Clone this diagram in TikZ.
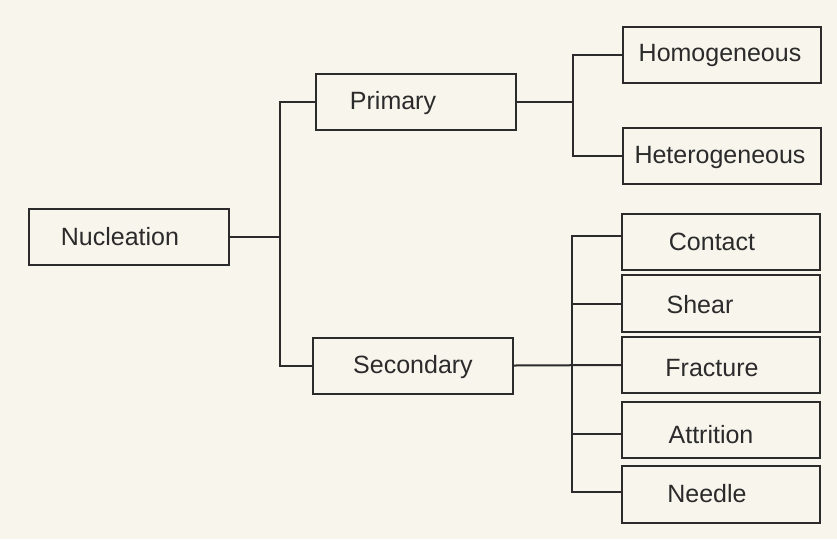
\documentclass[tikz,border=0pt]{standalone}
\usepackage{fontspec}
\setmainfont{Liberation Sans}
\definecolor{paper}{HTML}{F7F5EC}
\definecolor{ink}{HTML}{2B2B2B}
\begin{document}
\begin{tikzpicture}[x=1pt,y=-1pt,
  box/.style={draw=ink,line width=2pt,minimum width=200pt,minimum height=56pt,inner sep=0pt},
  rbox/.style={box,minimum width=198pt},
  lbl/.style={text=ink,font=\fontsize{25}{29}\selectfont,inner sep=0pt},
  conn/.style={draw=ink,line width=2pt}]
\fill[paper] (0,0) rectangle (837,539);
\useasboundingbox (0,0) rectangle (837,539);
% boxes
\node[box] (nuc) at (129,236.5) {};
\node[box] (pri) at (416,102) {};
\node[box] (sec) at (413,365.5) {};
\node[rbox] (hom) at (721.5,54.5) {};
\node[rbox] (het) at (721.5,155.5) {};
\node[rbox] (con) at (721,242) {};
\node[rbox,minimum height=57pt] (she) at (721,303.5) {};
\node[rbox] (fra) at (721,365) {};
\node[rbox] (att) at (721,429.5) {};
\node[rbox,minimum height=57pt] (nee) at (721,494.5) {};
% texts
\node[lbl] (nuct) at (120,237) {Nucleation};
\node[lbl] (prit) at (393,103) {Primary};
\node[lbl] (sect) at (413,367) {Secondary};
\node[lbl] (homt) at (720,55) {Homogeneous};
\node[lbl] (hett) at (720,157) {Heterogeneous};
\node[lbl] (cont) at (712,242) {Contact};
\node[lbl] (shet) at (700,305) {Shear};
\node[lbl] (frat) at (712,368) {Fracture};
\node[lbl] (attt) at (711,435) {Attrition};
\node[lbl] (neet) at (707,494) {Needle};
% junctions
\coordinate (j1) at (280,236);
\coordinate (j2) at (573,102);
\coordinate (j3) at (572,366);
% connectors
\draw[conn] (nuc.east) -- (nuc.east -| j1);
\draw[conn] (pri.west) -- (pri.west -| j1) -- (sec.west -| j1) -- (sec.west);
\draw[conn] (pri.east) -- (pri.east -| j2);
\draw[conn] (hom.west) -- (hom.west -| j2) -- (het.west -| j2) -- (het.west);
\draw[conn] (sec.east) -- (fra.west);
\draw[conn] ([yshift=6pt]con.west) -- ([yshift=6pt]con.west -| j3) -- ([yshift=2.5pt]nee.west -| j3) -- ([yshift=2.5pt]nee.west);
\draw[conn] (she.west) -- (she.west -| j3);
\draw[conn] ([yshift=-4.5pt]att.west) -- ([yshift=-4.5pt]att.west -| j3);
\end{tikzpicture}
\end{document}
